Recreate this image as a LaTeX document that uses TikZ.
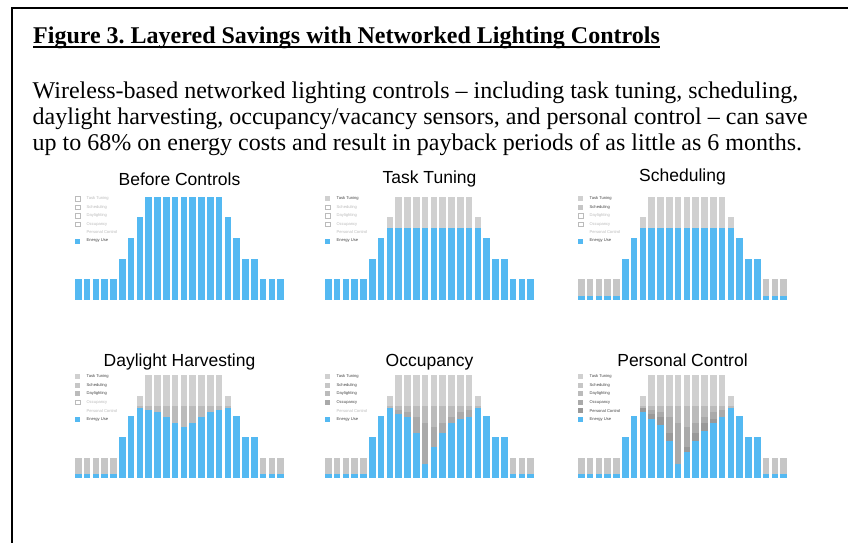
\documentclass[tikz,border=0pt]{standalone}
\usepackage{fontspec}
\setmainfont{Liberation Serif}
\newfontfamily\chartfont{Liberation Sans}
\frenchspacing
\definecolor{ctask}{HTML}{D0D0D0}
\definecolor{csched}{HTML}{C6C6C6}
\definecolor{cday}{HTML}{BBBBBB}
\definecolor{cocc}{HTML}{AAAAAA}
\definecolor{cpers}{HTML}{999999}
\definecolor{cblue}{RGB}{84,185,242}
\definecolor{legdark}{HTML}{444444}
\definecolor{leglight}{HTML}{BBBBBB}
\newcommand\bardata{20.65/20.65/4.3/4.3/4.3/4.3,20.65/20.65/4.3/4.3/4.3/4.3,20.65/20.65/4.3/4.3/4.3/4.3,20.65/20.65/4.3/4.3/4.3/4.3,20.65/20.65/4.3/4.3/4.3/4.3,41.3/41.3/41.3/41.3/41.3/41.3,61.95/61.95/61.95/61.95/61.95/61.95,82.6/72/72/70/70/66,103.25/72/72/68.3/64.3/59.7,103.25/72/72/66.3/61.7/53.3,103.25/72/72/61.7/45/37.3,103.25/72/72/55.7/14.3/14.3,103.25/72/72/51.7/31/26.7,103.25/72/72/55.7/45/37.3,103.25/72/72/61.7/55.7/47.3,103.25/72/72/66.3/59.7/55.7,103.25/72/72/68.3/61.7/61,82.6/72/72/70/70/70,61.95/61.95/61.95/61.95/61.95/61.95,41.3/41.3/41.3/41.3/41.3/41.3,41.3/41.3/41.3/41.3/41.3/41.3,20.65/20.65/4.3/4.3/4.3/4.3,20.65/20.65/4.3/4.3/4.3/4.3,20.65/20.65/4.3/4.3/4.3/4.3}
% #1 name, #2 x0, #3 baseline, #4 level, #5 title, #6 title baseline
\newcommand\lightchart[6]{%
  \foreach \hA/\hB/\hC/\hD/\hE/\hF [count=\n from 0] in \bardata {
    \pgfmathsetmacro\xl{#2+\n*8.8}
    \ifnum#4>0 \fill[ctask] (\xl,#3) rectangle ++(6.6,-\hA);\fi
    \ifnum#4>1 \fill[csched] (\xl,#3) rectangle ++(6.6,-\hB);\fi
    \ifnum#4>2 \fill[cday] (\xl,#3) rectangle ++(6.6,-\hC);\fi
    \ifnum#4>3 \fill[cocc] (\xl,#3) rectangle ++(6.6,-\hD);\fi
    \ifnum#4>4 \fill[cpers] (\xl,#3) rectangle ++(6.6,-\hE);\fi
    \pgfmathsetmacro\hb{{\hA,\hB,\hC,\hD,\hE,\hF}[#4]}
    \fill[cblue] (\xl,#3) rectangle ++(6.6,-\hb);
  }
  \foreach \lab/\col [count=\k from 0] in {Task Tuning/ctask,Scheduling/csched,Daylighting/cday,Occupancy/cocc,Personal Control/cpers}{
    \pgfmathsetmacro\ly{#3-101.5+\k*8.5}
    \ifnum\k<#4
      \fill[\col] (#2,\ly-2.5) rectangle ++(5,5);
      \node[legtext,text=legdark] (#1-leg\k) at (#2+11.5,\ly) {\lab};
    \else
      \ifnum\k<4 \draw[leglight,line width=0.4pt,fill=white] (#2+0.3,\ly-2.2) rectangle ++(4.4,4.4);\fi
      \node[legtext,text=leglight] (#1-leg\k) at (#2+11.5,\ly) {\lab};
    \fi
  }
  \fill[cblue] (#2,#3-101.5+42.5-2.5) rectangle ++(5,5);
  \node[legtext,text=legdark] (#1-leg5) at (#2+11.5,#3-101.5+42.5) {Energy Use};
  \node[ctitle] (#1-title) at (#2+104.5,#6) {#5};
}
\begin{document}
\begin{tikzpicture}[x=1pt,y=-1pt,
  legtext/.style={anchor=west,inner sep=0pt,font=\chartfont\fontsize{4.1}{5}\selectfont},
  ctitle/.style={anchor=base,inner sep=0pt,font=\chartfont\fontsize{17.5}{20}\selectfont},
  body/.style={anchor=base west,inner sep=0pt,font=\fontsize{24}{26}\selectfont}]
\useasboundingbox (0,0) rectangle (848,543);
\fill[white] (0,0) rectangle (848,543);
\draw[line width=2pt] (849,8.3) -- (12,8.3) -- (12,544);
\node[body,font=\bfseries\fontsize{24}{26}\selectfont] (title) at (33,44) {Figure 3. Layered Savings with Networked Lighting Controls};
\draw[line width=1.5pt] ([yshift=-3pt]title.base west) -- ([yshift=-3pt]title.base east);
\node[body] (line1) at (32.5,98.3) {Wireless-based networked lighting controls – including task tuning, scheduling,};
\node[body] (line2) at (32.5,124.3) {daylight harvesting, occupancy/vacancy sensors, and personal control – can save};
\node[body] (line3) at (32.5,150.3) {up to 68\% on energy costs and result in payback periods of as little as 6 months.};
\lightchart{before}{75}{300}{0}{Before Controls}{185.5}
\lightchart{task}{325}{300}{1}{Task Tuning}{183.3}
\lightchart{sched}{578}{300}{2}{Scheduling}{181.7}
\lightchart{day}{75}{478.3}{3}{Daylight Harvesting}{366}
\lightchart{occ}{325}{478.3}{4}{Occupancy}{366}
\lightchart{pers}{578}{478.3}{5}{Personal Control}{366.5}
\end{tikzpicture}
\end{document}
